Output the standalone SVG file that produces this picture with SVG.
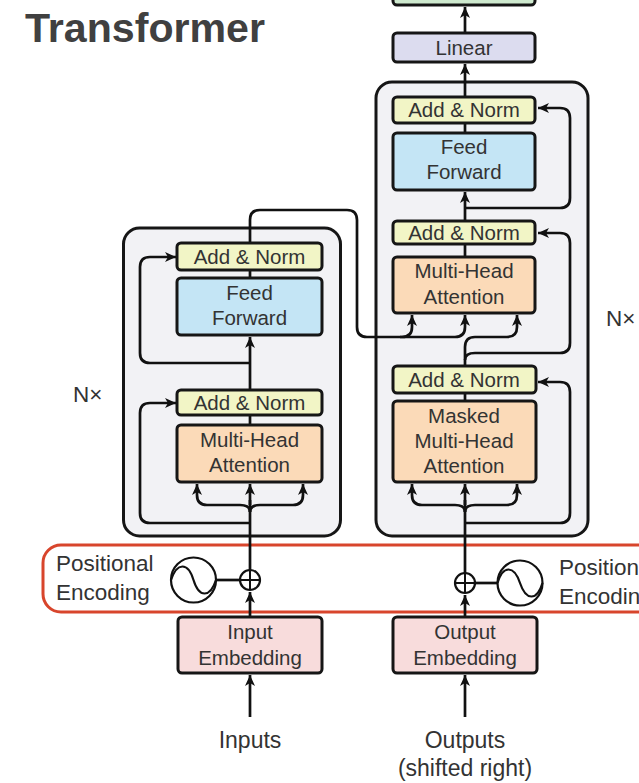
<svg xmlns="http://www.w3.org/2000/svg" width="639" height="783" viewBox="0 0 639 783">
  <defs>
    <marker id="arrow" markerUnits="userSpaceOnUse" markerWidth="12" markerHeight="12" viewBox="0 0 12 12" refX="11" refY="6" orient="auto">
      <path d="M0,1 L11,6 L0,11 L3,6 Z" fill="#111"/>
    </marker>
    <style>
      .title { font-family: "Liberation Sans", Arial, sans-serif; font-weight: bold; font-size: 40px; fill: #404040; }
      .lbl { font-family: "Liberation Sans", Arial, sans-serif; font-size: 20.5px; fill: #333; text-anchor: middle; }
      .side { font-family: "Liberation Sans", Arial, sans-serif; font-size: 22.5px; fill: #333; }
      .io { font-family: "Liberation Sans", Arial, sans-serif; font-size: 23px; fill: #333; text-anchor: middle; }
      .stack { fill: #f2f2f5; stroke: #161616; stroke-width: 3; }
      .box { stroke: #161616; stroke-width: 3; }
      .addnorm { fill: #f2f5c6; }
      .ff { fill: #c4e5f5; }
      .mha { fill: #fbdab8; }
      .emb { fill: #f8dcdc; }
      .linear { fill: #dcdcef; }
      .softmax { fill: #cfeacf; }
      .wire { fill: none; stroke: #111; stroke-width: 2.7; }
      .arr { fill: none; stroke: #111; stroke-width: 2.7; marker-end: url(#arrow); }
      .pe { fill: none; stroke: #d8452c; stroke-width: 3; }
      .circ { fill: #fff; stroke: #111; stroke-width: 2.2; }
    </style>
  </defs>

  <rect width="639" height="783" fill="#ffffff"/>

  <text class="title" x="25" y="42" textLength="240" lengthAdjust="spacingAndGlyphs">Transformer</text>

  <!-- stack backgrounds -->
  <g id="encoder-stack">
    <rect class="stack" x="123.5" y="228" width="217" height="308" rx="16"/>
  </g>
  <g id="decoder-stack">
    <rect class="stack" x="376" y="82" width="212" height="454" rx="16"/>
  </g>

  <!-- positional encoding band -->
  <g id="positional-band">
    <rect class="pe" x="43" y="545" width="680" height="67" rx="18"/>
  </g>

  <text class="side" x="73" y="402">N×</text>
  <text class="side" x="606" y="326">N×</text>

  <!-- connectors -->
  <g id="connectors">
    <!-- encoder main path -->
    <path class="arr" d="M250,717 V675"/>
    <path class="arr" d="M250,617 V592"/>
    <path class="wire" d="M250,570 V500"/>
    <path class="arr" d="M250,505 V484"/>
    <path class="arr" d="M250,512 Q250,505 240,505 H207 Q197,505 197,495 V484"/>
    <path class="arr" d="M250,512 Q250,505 260,505 H293 Q303,505 303,495 V484"/>
    <path class="arr" d="M250,523 H150 Q140,523 140,513 V413 Q140,403 150,403 H176"/>
    <path class="wire" d="M250,425 V415"/>
    <path class="arr" d="M250,390 V337"/>
    <path class="arr" d="M250,363 H150 Q140,363 140,353 V267 Q140,257 150,257 H176"/>
    <path class="wire" d="M250,278 V270"/>
    <!-- encoder output into decoder attention -->
    <path class="arr" d="M250,243 V220 Q250,210 260,210 H347 Q357,210 357,220 V327 Q357,337 367,337 H402 Q412,337 412,327 V315"/>
    <path class="arr" d="M400,337 H455 Q465,337 465,327 V315"/>

    <!-- decoder main path -->
    <path class="arr" d="M465,717 V675"/>
    <path class="arr" d="M465,617 V595"/>
    <path class="wire" d="M465,573 V500"/>
    <path class="arr" d="M465,505 V484"/>
    <path class="arr" d="M465,512 Q465,505 455,505 H422 Q412,505 412,495 V484"/>
    <path class="arr" d="M465,512 Q465,505 475,505 H507 Q517,505 517,495 V484"/>
    <path class="arr" d="M465,523 H560 Q570,523 570,513 V392 Q570,382 560,382 H538"/>
    <path class="wire" d="M465,401 V393"/>
    <path class="arr" d="M465,366 V347 Q465,337 475,337 H507 Q517,337 517,327 V315"/>
    <path class="arr" d="M465,360 Q465,353 475,353 H560 Q570,353 570,343 V243 Q570,233 560,233 H538"/>
    <path class="wire" d="M465,257 V243"/>
    <path class="arr" d="M465,222 V192"/>
    <path class="arr" d="M465,208 H560 Q570,208 570,198 V118 Q570,108 560,108 H538"/>
    <path class="wire" d="M465,133 V123"/>
    <path class="arr" d="M465,97 V64"/>
    <path class="arr" d="M465,33 V7"/>

    <!-- positional encoding links -->
    <path class="wire" d="M216,580 H240"/>
    <path class="wire" d="M475,583 H497"/>
  </g>

  <!-- encoder nodes -->
  <g id="enc-addnorm-2">
    <rect class="box addnorm" x="177" y="243" width="145" height="27" rx="4"/>
    <text class="lbl" x="249.5" y="264">Add &amp; Norm</text>
  </g>
  <g id="enc-feedforward">
    <rect class="box ff" x="177" y="278" width="145" height="57" rx="4"/>
    <text class="lbl" x="249.5" y="300">Feed</text>
    <text class="lbl" x="249.5" y="325">Forward</text>
  </g>
  <g id="enc-addnorm-1">
    <rect class="box addnorm" x="177" y="390" width="145" height="25" rx="4"/>
    <text class="lbl" x="249.5" y="410">Add &amp; Norm</text>
  </g>
  <g id="enc-attention">
    <rect class="box mha" x="177" y="425" width="145" height="57" rx="4"/>
    <text class="lbl" x="249.5" y="447">Multi-Head</text>
    <text class="lbl" x="249.5" y="472">Attention</text>
  </g>
  <g id="input-embedding">
    <rect class="box emb" x="178" y="617" width="144" height="56" rx="4"/>
    <text class="lbl" x="250" y="639">Input</text>
    <text class="lbl" x="250" y="665">Embedding</text>
  </g>
  <g id="inputs">
    <text class="io" x="250" y="748">Inputs</text>
  </g>

  <!-- decoder nodes -->
  <g id="softmax">
    <rect class="box softmax" x="393" y="-22" width="142" height="27" rx="4"/>
  </g>
  <g id="linear">
    <rect class="box linear" x="393" y="33" width="142" height="29" rx="4"/>
    <text class="lbl" x="464" y="55">Linear</text>
  </g>
  <g id="dec-addnorm-3">
    <rect class="box addnorm" x="393" y="97" width="142" height="26" rx="4"/>
    <text class="lbl" x="464" y="117">Add &amp; Norm</text>
  </g>
  <g id="dec-feedforward">
    <rect class="box ff" x="393" y="133" width="142" height="57" rx="4"/>
    <text class="lbl" x="464" y="154">Feed</text>
    <text class="lbl" x="464" y="179">Forward</text>
  </g>
  <g id="dec-addnorm-2">
    <rect class="box addnorm" x="393" y="221" width="142" height="23" rx="4"/>
    <text class="lbl" x="464" y="240">Add &amp; Norm</text>
  </g>
  <g id="dec-cross-attention">
    <rect class="box mha" x="393" y="257" width="142" height="56" rx="4"/>
    <text class="lbl" x="464" y="278">Multi-Head</text>
    <text class="lbl" x="464" y="304">Attention</text>
  </g>
  <g id="dec-addnorm-1">
    <rect class="box addnorm" x="393" y="366" width="143" height="27" rx="4"/>
    <text class="lbl" x="464" y="387">Add &amp; Norm</text>
  </g>
  <g id="dec-masked-attention">
    <rect class="box mha" x="393" y="401" width="143" height="81" rx="4"/>
    <text class="lbl" x="464" y="423">Masked</text>
    <text class="lbl" x="464" y="448">Multi-Head</text>
    <text class="lbl" x="464" y="473">Attention</text>
  </g>
  <g id="output-embedding">
    <rect class="box emb" x="393" y="617" width="144" height="56" rx="4"/>
    <text class="lbl" x="465" y="639">Output</text>
    <text class="lbl" x="465" y="665">Embedding</text>
  </g>
  <g id="outputs">
    <text class="io" x="465" y="748">Outputs</text>
    <text class="io" x="465" y="776">(shifted right)</text>
  </g>

  <!-- positional encodings -->
  <g id="enc-positional">
    <text class="side" x="56" y="571">Positional</text>
    <text class="side" x="56" y="600">Encoding</text>
    <circle class="circ" cx="193.5" cy="580" r="22.5"/>
    <path class="wire" d="M171,580 C177,562 188,562 193.5,580 C199,598 210,598 216,580" style="stroke-width:2.2"/>
    <circle class="circ" cx="250" cy="580" r="10"/>
    <path class="wire" d="M240,580 H260 M250,570 V590" style="stroke-width:2"/>
  </g>
  <g id="dec-positional">
    <text class="side" x="559" y="575">Positional</text>
    <text class="side" x="559" y="604">Encoding</text>
    <circle class="circ" cx="520" cy="583" r="22.5"/>
    <path class="wire" d="M497.5,583 C503,565 514,565 520,583 C526,601 537,601 542.5,583" style="stroke-width:2.2"/>
    <circle class="circ" cx="465" cy="583" r="10"/>
    <path class="wire" d="M455,583 H475 M465,573 V593" style="stroke-width:2"/>
  </g>
</svg>
